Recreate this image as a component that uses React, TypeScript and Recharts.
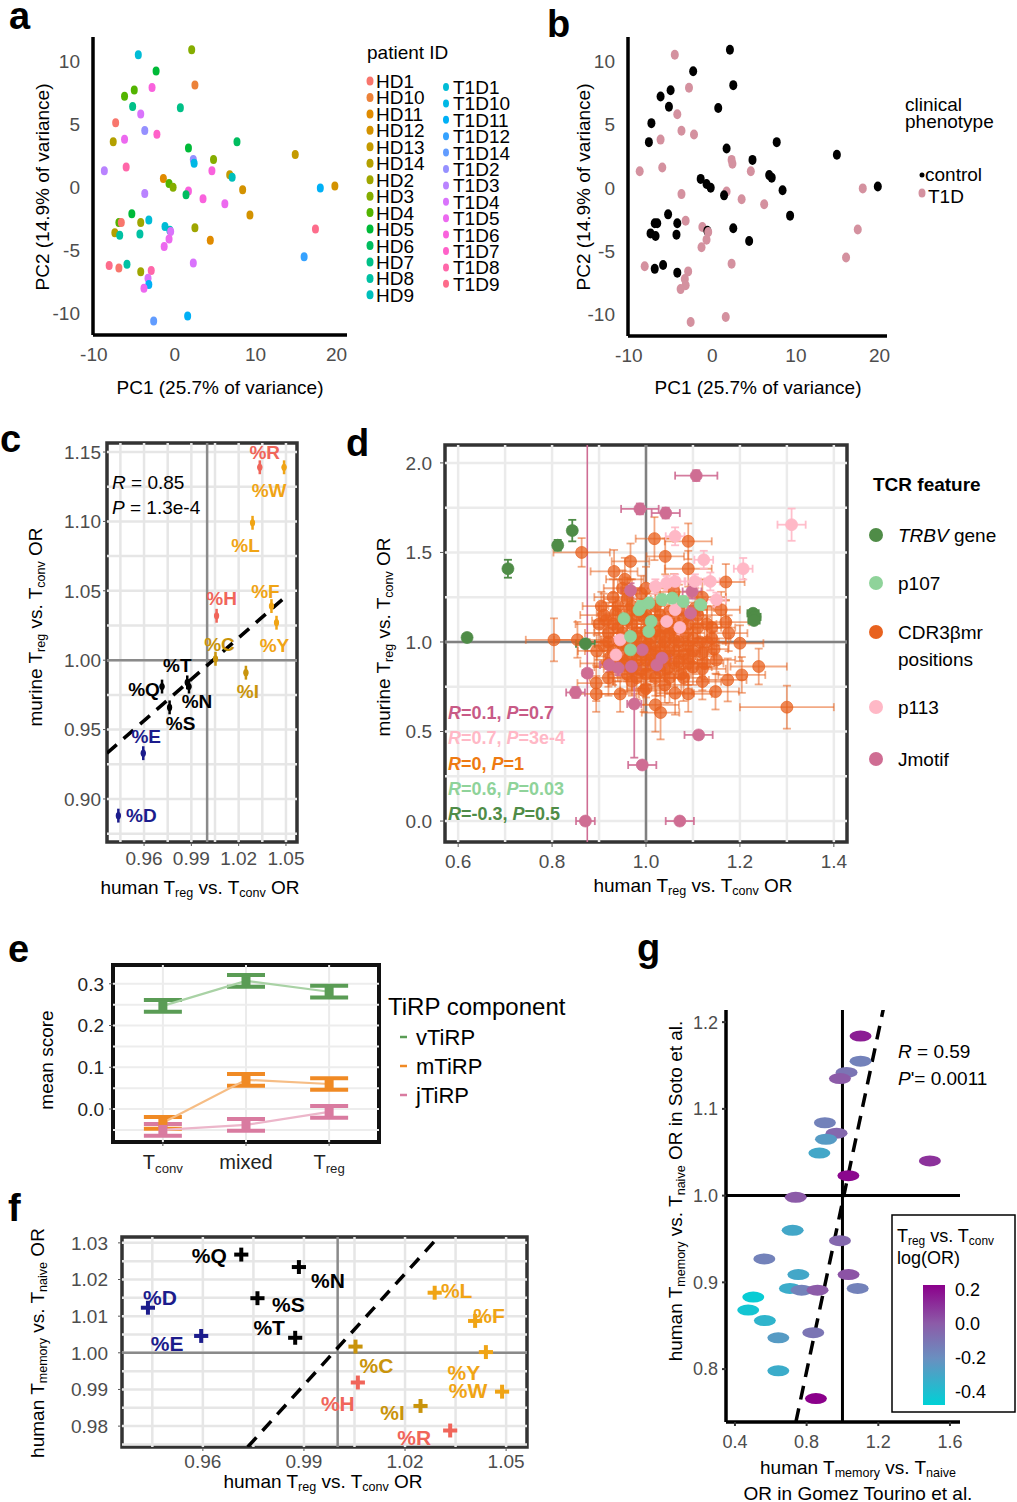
import React from "react";
import {
  ScatterChart, Scatter, LineChart, Line, XAxis, YAxis,
  ReferenceLine, ReferenceArea, ErrorBar,
} from "recharts";

document.body.style.margin = "0";

const FONT = "'Liberation Sans', Arial, Helvetica, sans-serif";
const TICK_GREY = "#4d4d4d";

/* ---------------- a, b : PCA of patients ---------------- */
const patientIds = ["HD1", "HD10", "HD11", "HD12", "HD13", "HD14", "HD2", "HD3", "HD4", "HD5", "HD6", "HD7", "HD8", "HD9",
  "T1D1", "T1D10", "T1D11", "T1D12", "T1D14", "T1D2", "T1D3", "T1D4", "T1D5", "T1D6", "T1D7", "T1D8", "T1D9"];
const patientColors = ["#F8766D", "#EC8239", "#E08B00", "#D39200", "#C49A00", "#B3A000", "#9FA600", "#85AD00", "#53B400",
  "#00BA38", "#00BD5F", "#00C087", "#00C1A3", "#00BFBB", "#00BCD6", "#00B8E5", "#00B0F6", "#35A2FF", "#619CFF", "#9590FF",
  "#B983FF", "#D973FC", "#EC69EF", "#F962DD", "#FF61C9", "#FF67A9", "#FD6C8B"];
const pcaPoints: [string, number, number][] = [
  ["T1D1", -4.5, 10.5], ["HD3", 2.1, 10.9], ["HD5", -2.3, 9.2], ["HD10", 2.5, 8.1], ["T1D6", -2.8, 7.9],
  ["HD4", -5.0, 7.7], ["HD4", -6.2, 7.2], ["HD7", -5.2, 6.4], ["HD7", 0.7, 6.3], ["T1D4", -4.2, 5.8],
  ["HD1", -7.3, 5.1], ["T1D2", -3.7, 4.5], ["T1D7", -2.2, 4.2], ["HD14", -7.6, 3.6], ["T1D5", -6.2, 3.8],
  ["HD5", 1.7, 3.1], ["HD6", 7.7, 3.6], ["HD13", 14.9, 2.6], ["HD3", 4.8, 2.2], ["T1D2", 2.3, 2.2],
  ["T1D10", 2.4, 1.9], ["T1D3", -8.7, 1.3], ["T1D8", -6.0, 1.6], ["T1D6", 4.6, 1.3], ["HD11", -1.4, 0.7],
  ["HD13", 6.8, 1.0], ["HD9", 7.1, 0.8], ["HD4", -0.7, 0.3], ["HD3", -0.2, 0.0], ["T1D6", 1.7, -0.3],
  ["HD6", 1.4, -0.6], ["HD12", 8.4, -0.2], ["T1D11", 18.0, -0.05], ["HD12", 19.8, 0.1], ["T1D3", -3.7, -0.5],
  ["T1D6", 3.5, -0.9], ["T1D5", 6.2, -1.3], ["HD12", 9.3, -2.2], ["HD5", -5.3, -2.1], ["HD4", -6.9, -2.8],
  ["HD1", -6.6, -2.8], ["HD2", -4.2, -2.8], ["T1D1", -3.2, -2.6], ["T1D1", -1.2, -3.1], ["HD9", -0.6, -3.4],
  ["T1D4", -0.5, -3.5], ["HD2", 2.5, -3.2], ["HD14", -7.4, -3.6], ["HD8", -6.8, -3.8], ["HD8", -4.3, -3.7],
  ["T1D5", -0.7, -4.1], ["T1D5", -1.3, -4.7], ["HD11", 4.4, -4.2], ["T1D9", 17.4, -3.3], ["T1D12", 16.0, -5.5],
  ["T1D4", 2.3, -6.0], ["T1D9", -8.1, -6.2], ["HD1", -6.9, -6.4], ["HD8", -5.9, -6.1], ["HD2", -4.2, -6.7],
  ["T1D8", -2.9, -6.6], ["T1D4", -3.3, -7.2], ["T1D11", -3.2, -7.7], ["T1D5", -3.8, -8.0], ["T1D14", -2.6, -10.6],
  ["T1D11", 1.6, -10.2],
];
const pcTicksX = [-10, 0, 10, 20];
const pcTicksY = [-10, -5, 0, 5, 10];

/* ---------------- c, f : amino-acid usage ---------------- */
const residues = ["%R", "%W", "%L", "%F", "%Y", "%H", "%C", "%I", "%T", "%Q", "%N", "%S", "%E", "%D"];
const residueGroup = ["basic", "hydro", "hydro", "hydro", "hydro", "basic", "mid", "mid", "polar", "polar", "polar", "polar", "acid", "acid"];
const humanTregOR = [1.0334, 1.0488, 1.0288, 1.0408, 1.044, 1.006, 1.0053, 1.0246, 0.9874, 0.9714, 0.9885, 0.9762, 0.9595, 0.9437];
const murineTregOR = [1.139, 1.139, 1.099, 1.039, 1.027, 1.032, 1.001, 0.991, 0.984, 0.981, 0.981, 0.966, 0.933, 0.888];
const humanMemoryOR = [0.9788, 0.9894, 1.0164, 1.0087, 1.0002, 0.9919, 1.0017, 0.9855, 1.0041, 1.0268, 1.0234, 1.0149, 1.0046, 1.0123];
const fitC = [{ x: 0.9365, y: 0.933 }, { x: 1.049, y: 1.045 }];
const fitF = [{ x: 0.9733, y: 0.9743 }, { x: 1.0294, y: 1.0311 }];
const orTicksX = [0.96, 0.99, 1.02, 1.05];
const murineTicks = [0.9, 0.95, 1.0, 1.05, 1.1, 1.15];
const memoryTicks = [0.98, 0.99, 1.0, 1.01, 1.02, 1.03];
const orGridX = [0.945, 0.96, 0.975, 0.99, 1.005, 1.02, 1.035, 1.05];
const murineGridY = [0.875, 0.9, 0.925, 0.95, 0.975, 1.0, 1.025, 1.05, 1.075, 1.1, 1.125, 1.15];
const memoryGridY = [0.975, 0.98, 0.985, 0.99, 0.995, 1.0, 1.005, 1.01, 1.015, 1.02, 1.025, 1.03];

/* ---------------- d : TCR features ---------------- */
// [human OR, murine OR, x error, y error]
const trbvPoints = [[0.619, 1.025, 0.006, 0.012], [0.706, 1.409, 0.008, 0.05], [0.812, 1.54, 0.008, 0.03], [0.843, 1.622, 0.008, 0.06],
  [0.871, 0.99, 0.02, 0.01], [1.228, 1.16, 0.012, 0.02], [1.232, 1.14, 0.012, 0.02], [1.23, 1.12, 0.012, 0.02]];
const p107Points = [[0.953, 1.13, 0.01, 0.03], [0.967, 1.031, 0.01, 0.03], [0.967, 0.956, 0.01, 0.03], [0.985, 1.18, 0.01, 0.03],
  [0.989, 1.199, 0.01, 0.03], [1.006, 1.217, 0.01, 0.03], [1.011, 1.115, 0.01, 0.03], [1.006, 1.059, 0.01, 0.03],
  [1.034, 1.236, 0.01, 0.03], [1.056, 1.245, 0.01, 0.03], [1.079, 1.226, 0.01, 0.03], [1.116, 1.208, 0.012, 0.03]];
const p113Points = [[1.31, 1.655, 0.03, 0.09], [1.207, 1.409, 0.02, 0.06], [1.123, 1.459, 0.02, 0.05], [1.137, 1.338, 0.02, 0.05],
  [1.15, 1.236, 0.02, 0.04], [1.062, 1.59, 0.02, 0.05], [1.044, 1.329, 0.02, 0.04], [1.062, 1.338, 0.02, 0.04],
  [1.02, 1.31, 0.02, 0.04], [1.104, 1.338, 0.02, 0.04], [1.062, 1.18, 0.02, 0.04], [1.044, 1.115, 0.02, 0.04],
  [1.072, 1.081, 0.02, 0.04], [0.945, 1.012, 0.015, 0.03], [0.936, 0.928, 0.015, 0.03]];
const jmotifPoints = [[1.107, 1.929, 0.045, 0.03], [0.987, 1.743, 0.04, 0.03], [1.042, 1.72, 0.03, 0.03], [0.967, 1.288, 0.02, 0.04],
  [1.098, 1.282, 0.02, 0.04], [1.095, 1.161, 0.02, 0.04], [0.992, 0.956, 0.02, 0.04], [0.922, 0.872, 0.02, 0.04],
  [0.969, 0.863, 0.02, 0.04], [1.034, 0.91, 0.02, 0.04], [1.023, 0.872, 0.02, 0.04], [0.941, 0.854, 0.02, 0.04],
  [0.875, 0.826, 0.01, 3], [0.85, 0.718, 0.02, 0.03], [0.975, 0.654, 0.015, 0.3], [1.112, 0.481, 0.03, 0.02],
  [0.992, 0.313, 0.03, 0.02], [0.871, 0.0, 0.02, 0.01], [1.072, 0.0, 0.03, 0.01]];
const cdr3Points = [
  [0.863, 1.5, 0.06, 0.08], [1.018, 1.577, 0.04, 0.12], [1.09, 1.562, 0.05, 0.1], [0.967, 1.45, 0.04, 0.1], [0.932, 1.394, 0.05, 0.12],
  [1.041, 1.478, 0.04, 0.1], [1.09, 1.409, 0.05, 0.1], [1.17, 1.335, 0.04, 0.1], [0.804, 1.012, 0.06, 0.12], [0.854, 1.012, 0.05, 0.1],
  [1.17, 1.111, 0.05, 0.12], [1.176, 1.049, 0.04, 0.1], [1.2, 0.993, 0.05, 0.1], [1.24, 0.863, 0.06, 0.1], [1.204, 0.816, 0.05, 0.1],
  [1.174, 0.788, 0.04, 0.12], [1.148, 0.723, 0.05, 0.1], [1.12, 0.779, 0.04, 0.1], [1.09, 0.71, 0.05, 0.1], [1.062, 0.714, 0.04, 0.12],
  [1.02, 0.649, 0.05, 0.15], [1.031, 0.606, 0.04, 0.15], [0.995, 0.729, 0.05, 0.12], [0.945, 0.71, 0.04, 0.1], [0.894, 0.71, 0.05, 0.1],
  [0.894, 0.77, 0.04, 0.1], [1.3, 0.636, 0.1, 0.12],
  [0.905, 1.2, 0.04, 0.08], [0.915, 1.12, 0.03, 0.1], [0.92, 1.05, 0.05, 0.08], [0.91, 0.98, 0.04, 0.09], [0.925, 0.92, 0.03, 0.07],
  [0.93, 0.86, 0.04, 0.1], [0.935, 1.16, 0.04, 0.09], [0.94, 1.08, 0.05, 0.12], [0.945, 1.0, 0.04, 0.1], [0.95, 0.94, 0.03, 0.08],
  [0.955, 0.88, 0.05, 0.09], [0.96, 0.82, 0.04, 0.1], [0.96, 1.24, 0.05, 0.12], [0.965, 1.18, 0.03, 0.08], [0.97, 1.1, 0.04, 0.1],
  [0.975, 1.03, 0.05, 0.09], [0.98, 0.97, 0.04, 0.11], [0.985, 0.9, 0.03, 0.08], [0.99, 0.84, 0.05, 0.1], [0.99, 1.27, 0.04, 0.1],
  [0.995, 1.14, 0.04, 0.09], [1.0, 1.06, 0.05, 0.1], [1.005, 0.99, 0.03, 0.08], [1.01, 0.93, 0.04, 0.12], [1.015, 0.87, 0.05, 0.09],
  [1.02, 0.8, 0.04, 0.1], [1.02, 1.2, 0.05, 0.11], [1.025, 1.12, 0.04, 0.09], [1.03, 1.04, 0.03, 0.1], [1.035, 0.97, 0.05, 0.08],
  [1.04, 0.91, 0.04, 0.1], [1.045, 0.85, 0.04, 0.09], [1.05, 1.17, 0.05, 0.12], [1.055, 1.09, 0.04, 0.1], [1.06, 1.01, 0.03, 0.08],
  [1.065, 0.95, 0.05, 0.11], [1.07, 0.89, 0.04, 0.09], [1.075, 0.82, 0.04, 0.1], [1.08, 1.13, 0.05, 0.1], [1.085, 1.05, 0.04, 0.09],
  [1.09, 0.98, 0.03, 0.1], [1.095, 0.92, 0.05, 0.08], [1.1, 0.86, 0.04, 0.1], [1.105, 1.19, 0.04, 0.11], [1.11, 1.08, 0.05, 0.09],
  [1.115, 1.0, 0.04, 0.1], [1.12, 0.94, 0.03, 0.08], [1.125, 0.88, 0.04, 0.09], [1.13, 1.1, 0.05, 0.1], [1.14, 1.02, 0.04, 0.09],
  [1.145, 0.96, 0.03, 0.1], [1.15, 0.9, 0.04, 0.08], [0.9, 1.1, 0.05, 0.1], [0.895, 0.95, 0.04, 0.09], [0.95, 1.3, 0.04, 0.1],
  [1.0, 1.3, 0.05, 0.12], [1.06, 1.28, 0.04, 0.1], [0.97, 0.78, 0.04, 0.08], [1.04, 0.76, 0.05, 0.1], [1.0, 0.74, 0.04, 0.09],
  [0.93, 1.25, 0.04, 0.1], [1.12, 1.25, 0.05, 0.1], [0.92, 0.8, 0.04, 0.1], [1.16, 1.18, 0.04, 0.1], [0.955, 1.35, 0.04, 0.12],
  [0.91, 1.15, 0.05, 0.12], [0.92, 1.0, 0.04, 0.14], [0.93, 0.95, 0.06, 0.1], [0.94, 0.9, 0.05, 0.12], [0.94, 1.2, 0.04, 0.15],
  [0.95, 1.05, 0.06, 0.12], [0.96, 0.98, 0.05, 0.14], [0.96, 0.9, 0.04, 0.12], [0.97, 1.2, 0.05, 0.15], [0.97, 0.85, 0.06, 0.12],
  [0.98, 1.15, 0.05, 0.14], [0.98, 1.05, 0.04, 0.12], [0.99, 0.95, 0.06, 0.13], [0.99, 1.0, 0.05, 0.12], [1.0, 0.9, 0.04, 0.14],
  [1.0, 1.15, 0.06, 0.12], [1.0, 0.82, 0.05, 0.13], [1.01, 1.02, 0.04, 0.12], [1.01, 1.1, 0.06, 0.14], [1.02, 0.95, 0.05, 0.12],
  [1.02, 0.88, 0.04, 0.13], [1.03, 1.15, 0.06, 0.12], [1.03, 0.92, 0.05, 0.14], [1.04, 1.0, 0.04, 0.12], [1.04, 1.08, 0.06, 0.13],
  [1.05, 0.95, 0.05, 0.12], [1.05, 0.8, 0.04, 0.14], [1.06, 1.12, 0.06, 0.12], [1.06, 0.88, 0.05, 0.13], [1.07, 1.0, 0.04, 0.12],
  [1.07, 1.18, 0.06, 0.14], [1.08, 0.93, 0.05, 0.12], [1.08, 0.8, 0.04, 0.13], [1.09, 1.1, 0.06, 0.12], [1.1, 1.02, 0.05, 0.14],
  [1.1, 0.95, 0.04, 0.12], [1.11, 1.15, 0.06, 0.13], [1.12, 0.85, 0.05, 0.12], [1.13, 1.0, 0.04, 0.14], [0.97, 0.93, 0.06, 0.12],
  [1.02, 1.06, 0.05, 0.13], [0.93, 1.1, 0.04, 0.12], [0.96, 1.12, 0.06, 0.14], [1.05, 1.05, 0.05, 0.12], [1.0, 0.97, 0.04, 0.13],
  [0.98, 0.8, 0.06, 0.12], [1.03, 0.84, 0.05, 0.14], [1.09, 0.88, 0.04, 0.12], [0.92, 0.88, 0.06, 0.13], [1.14, 1.08, 0.05, 0.12],
];
const featureStats = ["*R*=0.1, *P*=0.7", "*R*=0.7, *P*=3e-4", "*R*=0, *P*=1", "*R*=0.6, *P*=0.03", "*R*=-0.3, *P*=0.5"];
const dTicksX = [0.6, 0.8, 1.0, 1.2, 1.4];
const dTicksY = [0, 0.5, 1.0, 1.5, 2.0];
const dGridX = [0.6, 0.7, 0.8, 0.9, 1.0, 1.1, 1.2, 1.3, 1.4];
const dGridY = [0, 0.25, 0.5, 0.75, 1.0, 1.25, 1.5, 1.75, 2.0];

/* ---------------- e : TiRP components ---------------- */
const cellTypes = ["T_{conv}", "mixed", "T_{reg}"];
const vTiRP = [0.247, 0.307, 0.281];
const mTiRP = [-0.033, 0.07, 0.06];
const jTiRP = [-0.05, -0.038, -0.007];
const tirpSE = [0.014, 0.014, 0.014];
const eTicksY = [0, 0.1, 0.2, 0.3];
const eGridY = [-0.05, 0, 0.05, 0.1, 0.15, 0.2, 0.25, 0.3];

/* ---------------- g : memory vs naive, two cohorts ---------------- */
// [Gomez Tourino OR, Soto OR, Treg vs Tconv log(OR)]
const gPoints = [[1.101, 1.184, 0.15], [1.101, 1.155, -0.15], [1.023, 1.142, -0.1], [0.986, 1.135, 0.0], [0.902, 1.084, -0.15],
  [0.967, 1.072, -0.05], [0.908, 1.065, -0.25], [0.871, 1.049, -0.3], [1.488, 1.04, 0.1], [1.033, 1.023, 0.2],
  [0.739, 0.998, 0.0], [0.722, 0.96, -0.3], [0.986, 0.948, -0.05], [0.564, 0.927, -0.15], [0.754, 0.909, -0.3],
  [1.034, 0.909, 0.02], [0.707, 0.893, -0.32], [0.772, 0.891, -0.15], [0.861, 0.891, 0.0], [1.085, 0.893, -0.15],
  [0.502, 0.883, -0.45], [0.474, 0.868, -0.42], [0.567, 0.856, -0.35], [0.642, 0.836, -0.25], [0.837, 0.842, -0.1],
  [0.642, 0.798, -0.32], [0.852, 0.766, 0.22]];
const fitG = [{ x: 0.74, y: 0.739 }, { x: 1.228, y: 1.215 }];
const gTicksX = [0.4, 0.8, 1.2, 1.6];
const gTicksY = [0.8, 0.9, 1.0, 1.1, 1.2];
const gLegendTicks = [0.2, 0.0, -0.2, -0.4];

/* ---------------- styles ---------------- */
const groupColor: Record<string, string> = {
  basic: "#f0655a", hydro: "#f0a415", mid: "#c9940c", polar: "#000000", acid: "#1c1c8c",
};
const featureColor = ["#4f8c47", "#8fd39a", "#e8621f", "#ffb8c6", "#cf6d93"];
const statColor = ["#c85a86", "#ffb8c6", "#ee7a12", "#8fd39a", "#4f8c47"];
const tirpColor = ["#5a9c55", "#f08a24", "#d97ba0"];
const tirpLine = ["#a9d2a5", "#f6bd85", "#ecb6ca"];
const gStops: [number, string][] = [[0.22, "#8b008b"], [0.0, "#8c5ba8"], [-0.2, "#6a8fc0"], [-0.47, "#00d1d6"]];

const labelPosC: Record<string, [number, number]> = {
  "%R": [5, -15], "%W": [-15, 23], "%L": [-7, 23], "%F": [-6, -15], "%Y": [-2, 23], "%H": [5, -17], "%C": [4, -14],
  "%I": [2, 19], "%T": [-10, -17], "%Q": [-18, 3], "%N": [8, 15], "%S": [11, 16], "%E": [3, -17], "%D": [23, 0],
};
const labelPosF: Record<string, [number, number]> = {
  "%Q": [-32, 1], "%N": [29, 13], "%S": [31, 6], "%T": [-26, -10], "%D": [12, -10], "%E": [-34, 8], "%L": [22, -2],
  "%F": [14, -5], "%C": [21, 19], "%Y": [-22, 20], "%H": [-20, 21], "%W": [-34, -1], "%I": [-28, 7], "%R": [-36, 7],
};

function hex(c: string) { return [1, 3, 5].map((i) => parseInt(c.slice(i, i + 2), 16)); }
function colorFor(v: number) {
  for (let i = 0; i < gStops.length - 1; i++) {
    const [a, ca] = gStops[i];
    const [b, cb] = gStops[i + 1];
    if (v <= a && v >= b) {
      const t = (a - v) / (a - b);
      const A = hex(ca), B = hex(cb);
      return `rgb(${A.map((q, k) => Math.round(q + (B[k] - q) * t)).join(",")})`;
    }
  }
  return v > gStops[0][0] ? gStops[0][1] : gStops[gStops.length - 1][1];
}

/* ---------------- layout helpers ---------------- */
type Box = { x0: number; x1: number; y0: number; y1: number };
const YW = 80, XH = 50, PAD = 16;
function frame(b: Box) {
  return {
    left: b.x0 - YW, top: b.y0 - PAD,
    width: b.x1 - b.x0 + YW + PAD, height: b.y1 - b.y0 + PAD + XH,
    margin: { top: PAD, right: PAD, left: 0, bottom: 0 },
  };
}
const boxA: Box = { x0: 93, x1: 347, y0: 37, y1: 335 };
const boxB: Box = { x0: 628, x1: 887, y0: 37, y1: 336 };
const boxC: Box = { x0: 107, x1: 297, y0: 443, y1: 842 };
const boxD: Box = { x0: 445, x1: 847, y0: 445, y1: 842 };
const boxE: Box = { x0: 113, x1: 379, y0: 965, y1: 1142 };
const boxF: Box = { x0: 122, x1: 527, y0: 1237, y1: 1447 };
const boxG: Box = { x0: 726, x1: 960, y0: 1010, y1: 1422 };

const tick = (size = 19, fill = TICK_GREY) => ({ fill, fontSize: size, fontFamily: FONT });

type Seg = { t: string; sub?: boolean; it?: boolean };
function segs(s: string): Seg[] {
  const out: Seg[] = [];
  const re = /_\{([^}]*)\}|\*([^*]*)\*|([^_*]+)/g;
  let m: RegExpExecArray | null;
  while ((m = re.exec(s))) {
    if (m[1] !== undefined) out.push({ t: m[1], sub: true });
    else if (m[2] !== undefined) out.push({ t: m[2], it: true });
    else out.push({ t: m[3] });
  }
  return out;
}

function Txt({ x, y, s, size = 19, anchor = "start", rot = false, fill = "#000", bold = false }: any) {
  const shift = size * 0.3;
  let down = false;
  return (
    <text x={x} y={y} fontSize={size} textAnchor={anchor} dominantBaseline="central" fill={fill}
      fontFamily={FONT} fontWeight={bold ? "bold" : "normal"} transform={rot ? `rotate(-90 ${x} ${y})` : undefined}>
      {segs(s).map((p, i) => {
        let dy = 0;
        if (p.sub && !down) { dy = shift; down = true; } else if (!p.sub && down) { dy = -shift; down = false; }
        return (
          <tspan key={i} dy={dy} fontSize={p.sub ? size * 0.66 : undefined} fontStyle={p.it ? "italic" : undefined}>{p.t}</tspan>
        );
      })}
    </text>
  );
}

/* ---------------- panels ---------------- */
function PcaPanel({ box, domainX, colorOf, rx, ry }: any) {
  const f = frame(box);
  const data = pcaPoints.map(([id, x, y]) => ({ id, x, y }));
  const axisLine = { stroke: "#000", strokeWidth: 3.5 };
  return (
    <div style={{ position: "absolute", left: f.left, top: f.top }}>
      <ScatterChart width={f.width} height={f.height} margin={f.margin}>
        <XAxis type="number" dataKey="x" domain={domainX} ticks={pcTicksX} allowDataOverflow height={XH}
          axisLine={axisLine} tickLine={false} tickSize={6} tickMargin={7} tick={tick(19)} />
        <YAxis type="number" dataKey="y" domain={[-11.7, 11.9]} ticks={pcTicksY} allowDataOverflow width={YW}
          axisLine={axisLine} tickLine={false} tickSize={6} tickMargin={7} tick={tick(19)} />
        <Scatter data={data} isAnimationActive={false}
          shape={(p: any) => <ellipse cx={p.cx} cy={p.cy} rx={rx} ry={ry} fill={colorOf(p.payload.id)} />} />
      </ScatterChart>
    </div>
  );
}

function Border({ x, y, stroke = "#333", w = 3.5 }: any) {
  return <ReferenceArea x1={x[0]} x2={x[1]} y1={y[0]} y2={y[1]} fill="none" stroke={stroke} strokeWidth={w} ifOverflow="visible" />;
}

function ResiduePanel({ box, xDomain, yDomain, yVals, yTicks, gridY, fit, labelPos, labelSize, kind }: any) {
  const f = frame(box);
  const rows = residues.map((name, i) => ({
    name, x: humanTregOR[i], y: yVals[i], group: residueGroup[i],
    ex: kind === "c" ? 0.0015 : 0.0021, ey: kind === "c" ? 0.005 : 0.0019,
  }));
  const groups = Object.keys(groupColor);
  return (
    <div style={{ position: "absolute", left: f.left, top: f.top }}>
      <ScatterChart width={f.width} height={f.height} margin={f.margin}>
        <XAxis type="number" dataKey="x" domain={xDomain} ticks={orTicksX} allowDataOverflow height={XH}
          axisLine={false} tickLine={{ stroke: "#555" }} tickSize={4} tickMargin={kind === "c" ? 6 : 4}
          tick={tick(19)} tickFormatter={(v: number) => v.toFixed(2)} />
        <YAxis type="number" dataKey="y" domain={yDomain} ticks={yTicks} allowDataOverflow width={YW}
          axisLine={false} tickLine={{ stroke: "#555" }} tickSize={4} tickMargin={kind === "c" ? 2 : 10}
          tick={tick(19)} tickFormatter={(v: number) => v.toFixed(2)} />
        {orGridX.map((v) => <ReferenceLine key={"gx" + v} x={v} stroke="#e6e6e6" strokeWidth={2.5} />)}
        {gridY.map((v: number) => <ReferenceLine key={"gy" + v} y={v} stroke="#e6e6e6" strokeWidth={2.5} />)}
        <ReferenceLine x={1} stroke="#8a8a8a" strokeWidth={2.5} />
        <ReferenceLine y={1} stroke="#8a8a8a" strokeWidth={2.5} />
        <ReferenceLine segment={fit} stroke="#000" strokeWidth={3.5} strokeDasharray="13 9" ifOverflow="hidden" />
        {groups.map((g) => (
          <Scatter key={g} data={rows.filter((r) => r.group === g)} isAnimationActive={false}
            shape={(p: any) => {
              const [dx, dy] = labelPos[p.payload.name];
              return (
                <g>
                  {kind === "c" && <ellipse cx={p.cx} cy={p.cy} rx={2.6} ry={3.6} fill={groupColor[g]} />}
                  <text x={p.cx + dx} y={p.cy + dy} textAnchor="middle" dominantBaseline="central" fontSize={labelSize}
                    fontWeight="bold" fontFamily={FONT} fill={groupColor[g]}>{p.payload.name}</text>
                </g>
              );
            }}>
            <ErrorBar dataKey="ey" direction="y" width={0} stroke={groupColor[g]} strokeWidth={kind === "c" ? 2.5 : 4} />
            <ErrorBar dataKey="ex" direction="x" width={0} stroke={groupColor[g]} strokeWidth={kind === "c" ? 2.5 : 4} />
          </Scatter>
        ))}
        <Border x={xDomain} y={yDomain} />
      </ScatterChart>
    </div>
  );
}

function FeaturePanel() {
  const f = frame(boxD);
  const xD = [0.572, 1.428], yD = [-0.117, 2.1];
  // error bars longer than the panel are drawn as clipped segments
  const LONG = 1;
  const toRows = (pts: number[][]) => pts.map(([x, y, ex, ey]) => ({ x, y, ex, ey: ey > LONG ? 0 : ey }));
  const longBars = jmotifPoints.filter((p) => p[3] > LONG);
  const series = [
    { pts: cdr3Points, c: featureColor[2], fo: 0.75, eo: 0.55, r: 6 },
    { pts: jmotifPoints, c: featureColor[4], fo: 1, eo: 0.9, r: 6 },
    { pts: p113Points, c: featureColor[3], fo: 1, eo: 0.9, r: 6 },
    { pts: p107Points, c: featureColor[1], fo: 1, eo: 0.9, r: 6 },
    { pts: trbvPoints, c: featureColor[0], fo: 1, eo: 1, r: 6 },
  ];
  return (
    <div style={{ position: "absolute", left: f.left, top: f.top }}>
      <ScatterChart width={f.width} height={f.height} margin={f.margin}>
        <XAxis type="number" dataKey="x" domain={xD} ticks={dTicksX} allowDataOverflow height={XH}
          axisLine={false} tickLine={{ stroke: "#555" }} tickSize={5} tickMargin={8} tick={tick(19)}
          tickFormatter={(v: number) => v.toFixed(1)} />
        <YAxis type="number" dataKey="y" domain={yD} ticks={dTicksY} allowDataOverflow width={YW}
          axisLine={false} tickLine={{ stroke: "#555" }} tickSize={5} tickMargin={8} tick={tick(19)}
          tickFormatter={(v: number) => v.toFixed(1)} />
        {dGridX.map((v) => <ReferenceLine key={"gx" + v} x={v} stroke="#ebebeb" strokeWidth={2.5} />)}
        {dGridY.map((v) => <ReferenceLine key={"gy" + v} y={v} stroke="#ebebeb" strokeWidth={2.5} />)}
        <ReferenceLine x={1} stroke="#808080" strokeWidth={2.5} />
        <ReferenceLine y={1} stroke="#808080" strokeWidth={2.5} />
        {longBars.map(([x, y, , ey], i) => (
          <ReferenceLine key={"lb" + i} segment={[{ x, y: y - ey }, { x, y: y + ey }]} stroke={featureColor[4]}
            strokeWidth={1.6} ifOverflow="hidden" />
        ))}
        {series.map((s, i) => (
          <Scatter key={i} data={toRows(s.pts)} isAnimationActive={false}
            shape={(p: any) => <circle cx={p.cx} cy={p.cy} r={s.r} fill={s.c} fillOpacity={s.fo} stroke={s.c} strokeOpacity={0.7} />}>
            <ErrorBar dataKey="ey" direction="y" width={4} stroke={s.c} strokeOpacity={s.eo} strokeWidth={1.8} />
            <ErrorBar dataKey="ex" direction="x" width={4} stroke={s.c} strokeOpacity={s.eo} strokeWidth={1.8} />
          </Scatter>
        ))}
        <Border x={xD} y={yD} />
      </ScatterChart>
    </div>
  );
}

function ETick({ x, y, payload }: any) {
  return <Txt x={x} y={y + 16} s={cellTypes[payload.value - 1]} size={20} anchor="middle" fill="#222" />;
}

function TirpDot(color: string) {
  return (p: any) => (p.cx == null ? <g /> : <rect x={p.cx - 4.5} y={p.cy - 5} width={9} height={10} fill={color} />);
}

function TirpPanel() {
  const f = frame(boxE);
  const xD = [0.4, 3.6], yD = [-0.079, 0.345];
  const rows = cellTypes.map((c, i) => ({ pos: i + 1, v: vTiRP[i], m: mTiRP[i], j: jTiRP[i], se: tirpSE[i] }));
  const keys = ["v", "m", "j"];
  return (
    <div style={{ position: "absolute", left: f.left, top: f.top }}>
      <LineChart width={f.width} height={f.height} margin={f.margin} data={rows}>
        <XAxis type="number" dataKey="pos" domain={xD} ticks={[1, 2, 3]} allowDataOverflow height={XH}
          axisLine={false} tickLine={{ stroke: "#555" }} tickSize={4} tickMargin={0} tick={<ETick />} />
        <YAxis type="number" domain={yD} ticks={eTicksY} allowDataOverflow width={YW}
          axisLine={false} tickLine={{ stroke: "#555" }} tickSize={4} tickMargin={5} tick={tick(19, "#222")}
          tickFormatter={(v: number) => v.toFixed(1)} />
        {[1, 2, 3].map((v) => <ReferenceLine key={"gx" + v} x={v} stroke="#ebebeb" strokeWidth={2} />)}
        {eGridY.map((v) => <ReferenceLine key={"gy" + v} y={v} stroke="#ededed" strokeWidth={2} />)}
        {keys.map((k, i) => (
          <Line key={k} dataKey={k} stroke={tirpLine[i]} strokeWidth={2.2} isAnimationActive={false}
            dot={TirpDot(tirpColor[i])}>
            <ErrorBar dataKey="se" direction="y" width={19} stroke={tirpColor[i]} strokeWidth={4} />
          </Line>
        ))}
        <Border x={xD} y={yD} stroke="#111" w={4} />
      </LineChart>
    </div>
  );
}

function MemoryPanel() {
  const f = frame(boxG);
  const xD = [0.35, 1.656], yD = [0.739, 1.214];
  const rows = gPoints.map(([x, y, c]) => ({ x, y, c }));
  const axisLine = { stroke: "#000", strokeWidth: 3.5 };
  return (
    <div style={{ position: "absolute", left: f.left, top: f.top }}>
      <ScatterChart width={f.width} height={f.height} margin={f.margin}>
        <XAxis type="number" dataKey="x" domain={xD} ticks={gTicksX} allowDataOverflow height={XH}
          axisLine={axisLine} tickLine={{ stroke: "#333", strokeWidth: 2 }} tickSize={4} tickMargin={9} tick={tick(18)}
          tickFormatter={(v: number) => v.toFixed(1)} />
        <YAxis type="number" dataKey="y" domain={yD} ticks={gTicksY} allowDataOverflow width={YW}
          axisLine={axisLine} tickLine={{ stroke: "#333", strokeWidth: 2 }} tickSize={4} tickMargin={4} tick={tick(18)}
          tickFormatter={(v: number) => v.toFixed(1)} />
        <ReferenceLine x={1} stroke="#000" strokeWidth={3} />
        <ReferenceLine y={1} stroke="#000" strokeWidth={3} />
        <ReferenceLine segment={fitG} stroke="#000" strokeWidth={3.5} strokeDasharray="14 9" ifOverflow="hidden" />
        <Scatter data={rows} isAnimationActive={false}
          shape={(p: any) => <ellipse cx={p.cx} cy={p.cy} rx={11} ry={5.5} fill={colorFor(p.payload.c)} />} />
      </ScatterChart>
    </div>
  );
}

/* ---------------- text layer ---------------- */
function Overlay() {
  const hd = patientIds.slice(0, 14), t1d = patientIds.slice(14);
  const legendY = [535, 583, 632, 707, 759];
  const letters: [string, number, number][] = [["a", 9, 29], ["b", 547, 37], ["c", 0, 452], ["d", 346, 456], ["e", 8, 962], ["f", 8, 1221], ["g", 637, 961]];
  return (
    <svg width={1017} height={1502} style={{ position: "absolute", left: 0, top: 0, pointerEvents: "none" }}>
      <defs>
        <linearGradient id="gGrad" x1="0" y1="0" x2="0" y2="1">
          <stop offset="0" stopColor="#8b008b" />
          <stop offset="0.32" stopColor="#8c5ba8" />
          <stop offset="0.61" stopColor="#6a8fc0" />
          <stop offset="1" stopColor="#00d1d6" />
        </linearGradient>
      </defs>
      {letters.map(([l, x, y]) => (
        <text key={l} x={x} y={y} fontSize={38} fontWeight="bold" fontFamily={FONT}>{l}</text>
      ))}

      {/* a */}
      <Txt x={42} y={187} s="PC2 (14.9% of variance)" rot anchor="middle" />
      <Txt x={220} y={387} s="PC1 (25.7% of variance)" anchor="middle" />
      <Txt x={367} y={52} s="patient ID" />
      {hd.map((id, i) => (
        <g key={id}>
          <ellipse cx={370} cy={81 + i * 16.45} rx={3.5} ry={4.5} fill={patientColors[i]} />
          <Txt x={376} y={81 + i * 16.45} s={id} size={19} />
        </g>
      ))}
      {t1d.map((id, i) => (
        <g key={id}>
          <ellipse cx={446} cy={87 + i * 16.4} rx={3} ry={4} fill={patientColors[14 + i]} />
          <Txt x={453} y={87 + i * 16.4} s={id} size={19} />
        </g>
      ))}

      {/* b */}
      <Txt x={583} y={187} s="PC2 (14.9% of variance)" rot anchor="middle" />
      <Txt x={758} y={387} s="PC1 (25.7% of variance)" anchor="middle" />
      <Txt x={905} y={104} s="clinical" />
      <Txt x={905} y={121} s="phenotype" />
      <circle cx={922} cy={175} r={2.5} fill="#000" />
      <Txt x={925} y={174} s="control" />
      <ellipse cx={922} cy={193} rx={3.5} ry={4.5} fill="#d4919f" />
      <Txt x={928} y={196} s="T1D" />

      {/* c */}
      <Txt x={35} y={627} s="murine T_{reg} vs. T_{conv} OR" rot anchor="middle" />
      <Txt x={200} y={887} s="human T_{reg} vs. T_{conv} OR" anchor="middle" />
      <Txt x={112} y={482} s="*R* = 0.85" />
      <Txt x={112} y={507} s="*P* = 1.3e-4" />

      {/* d */}
      <Txt x={383} y={637} s="murine T_{reg} vs. T_{conv} OR" rot anchor="middle" />
      <Txt x={693} y={885} s="human T_{reg} vs. T_{conv} OR" anchor="middle" />
      {featureStats.map((s, i) => (
        <Txt key={i} x={448} y={713 + i * 25.3} s={s} size={18} bold fill={statColor[i]} />
      ))}
      <Txt x={873} y={484} s="TCR feature" size={19} bold />
      {legendY.map((y, i) => (
        <circle key={i} cx={876} cy={y} r={7} fill={featureColor[i]} />
      ))}
      <Txt x={898} y={535} s="*TRBV* gene" />
      <Txt x={898} y={583} s="p107" />
      <Txt x={898} y={632} s="CDR3βmr" />
      <Txt x={898} y={659} s="positions" />
      <Txt x={898} y={707} s="p113" />
      <Txt x={898} y={759} s="Jmotif" />

      {/* e */}
      <Txt x={46} y={1060} s="mean score" rot anchor="middle" />
      <Txt x={190} y={1088} s="***" size={20} bold fill="#f08a24" anchor="middle" />
      <Txt x={388} y={1006} s="TiRP component" size={24} />
      {["vTiRP", "mTiRP", "jTiRP"].map((s, i) => (
        <g key={s}>
          <line x1={400} x2={407} y1={1037 + i * 29} y2={1037 + i * 29} stroke={tirpColor[i]} strokeWidth={2.5} />
          <Txt x={416} y={1037 + i * 29} s={s} size={22} />
        </g>
      ))}

      {/* f */}
      <Txt x={37} y={1343} s="human T_{memory} vs. T_{naive} OR" rot anchor="middle" />
      <Txt x={323} y={1481} s="human T_{reg} vs. T_{conv} OR" anchor="middle" />

      {/* g */}
      <Txt x={675} y={1191} s="human T_{memory} vs. T_{naive} OR in Soto et al." rot anchor="middle" />
      <Txt x={858} y={1467} s="human T_{memory} vs. T_{naive}" anchor="middle" />
      <Txt x={858} y={1493} s="OR in Gomez Tourino et al." anchor="middle" />
      <Txt x={898} y={1051} s="*R* = 0.59" />
      <Txt x={898} y={1078} s="*P*'= 0.0011" />
      <rect x={892} y={1215} width={123} height={197} fill="#fff" stroke="#000" strokeWidth={1.5} />
      <Txt x={897} y={1236} s="T_{reg} vs. T_{conv}" size={18} />
      <Txt x={897} y={1258} s="log(OR)" size={18} />
      <rect x={923} y={1285} width={22} height={120} fill="url(#gGrad)" />
      {gLegendTicks.map((v, i) => (
        <Txt key={v} x={955} y={1290 + i * 34} s={v.toFixed(1)} size={18} />
      ))}
    </svg>
  );
}

export default function App() {
  return (
    <div style={{ position: "relative", width: 1017, height: 1502, background: "#fff", fontFamily: FONT, overflow: "hidden" }}>
      <PcaPanel box={boxA} domainX={[-10.1, 21.3]} rx={3.5} ry={4.5}
        colorOf={(id: string) => patientColors[patientIds.indexOf(id)]} />
      <PcaPanel box={boxB} domainX={[-10.1, 20.9]} rx={4} ry={5}
        colorOf={(id: string) => (id.startsWith("HD") ? "#000000" : "#d4919f")} />
      <ResiduePanel box={boxC} kind="c" xDomain={[0.9365, 1.057]} yDomain={[0.869, 1.1565]} yVals={murineTregOR}
        yTicks={murineTicks} gridY={murineGridY} fit={fitC} labelPos={labelPosC} labelSize={19} />
      <FeaturePanel />
      <TirpPanel />
      <ResiduePanel box={boxF} kind="f" xDomain={[0.936, 1.0562]} yDomain={[0.9743, 1.0316]} yVals={humanMemoryOR}
        yTicks={memoryTicks} gridY={memoryGridY} fit={fitF} labelPos={labelPosF} labelSize={21} />
      <MemoryPanel />
      <Overlay />
    </div>
  );
}
